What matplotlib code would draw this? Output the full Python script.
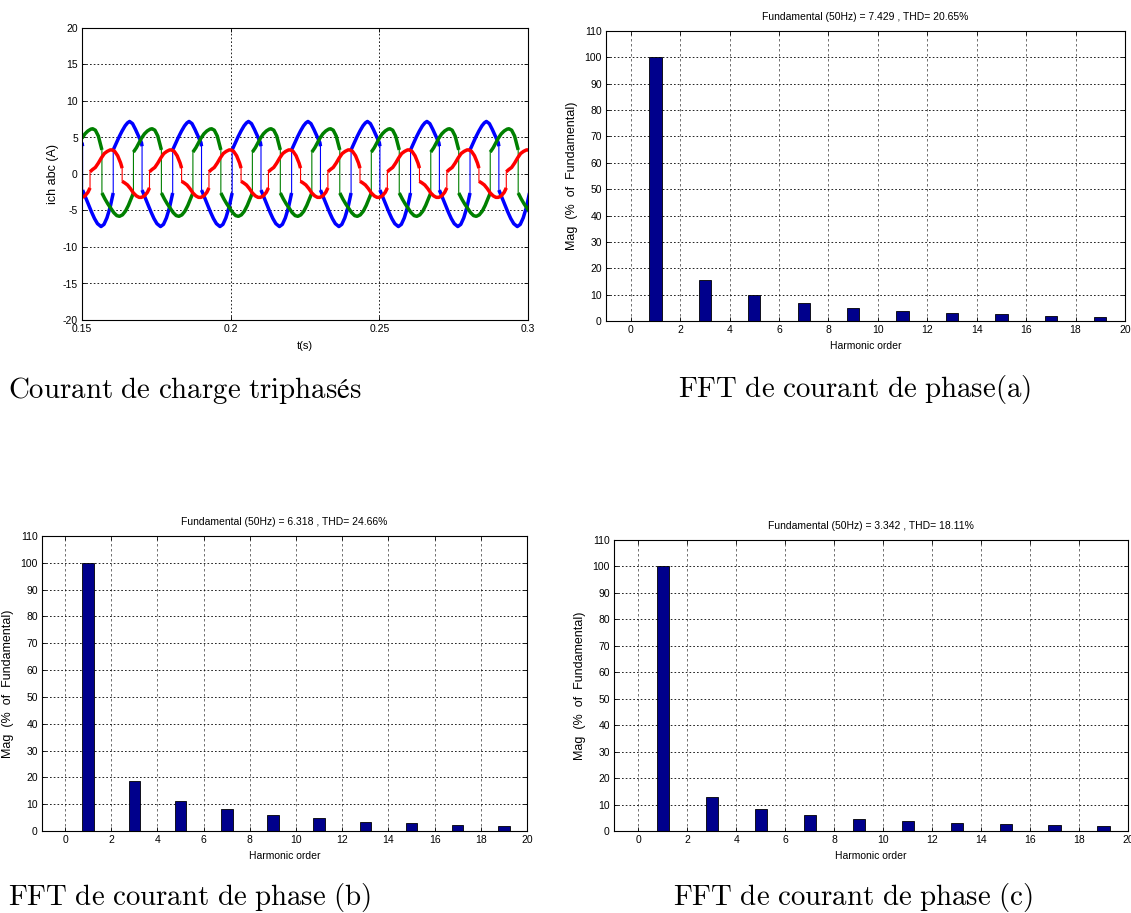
import numpy as np
import matplotlib
matplotlib.use("Agg")
import matplotlib.pyplot as plt

plt.rcParams['mathtext.fontset'] = 'cm'
plt.rcParams['axes.unicode_minus'] = False
TICK_FONT = ['Liberation Sans Narrow', 'Liberation Sans', 'DejaVu Sans']
LABEL_FONT = ['Liberation Sans', 'DejaVu Sans']

# ------------------------
# waveform data: one period of each phase current
# tau in ms from t = 0.19 s, period 20 ms (50 Hz)
# duplicate tau = vertical jump
# ------------------------
PERIOD = 0.02
T_REF = 0.19

blue_tau = [0.0, 0.2, 0.2, 1.2, 2.2, 3.2, 4.2, 5.2, 6.4, 7.4, 8.4, 9.5, 10.5, 10.5,
            11.5, 12.5, 13.5, 14.5, 15.3, 16.0, 17.0, 18.0, 19.0]
blue_val = [4.3, 3.8, -2.2, -3.2, -4.2, -5.2, -6.1, -6.8, -7.2, -6.9, -6.0, -4.5, -2.6, 3.3,
            4.2, 5.1, 5.9, 6.6, 7.0, 7.2, 6.9, 6.1, 5.2]

green_tau = [0.0, 1.0, 2.0, 3.0, 3.6, 4.5, 5.5, 6.7, 6.7, 7.7, 8.7, 9.7, 10.7, 11.7,
             12.6, 13.6, 14.6, 15.6, 16.5, 17.3, 17.3, 18.3, 19.2]
green_val = [4.9, 5.5, 5.9, 6.15, 6.2, 6.0, 5.2, 3.3, -2.6, -3.4, -4.1, -4.7, -5.3, -5.7,
             -5.8, -5.6, -5.1, -4.3, -3.4, -2.6, 3.0, 3.6, 4.3]

red_tau = [0.0, 1.0, 2.0, 2.7, 2.7, 3.5, 4.5, 5.5, 6.5, 7.5, 8.5, 9.5, 10.1, 11.0,
           12.0, 13.0, 13.5, 13.5, 14.3, 15.3, 16.3, 17.3, 18.3, 19.2]
red_val = [-3.2, -3.0, -2.5, -1.9, 0.3, 0.6, 0.9, 1.5, 2.2, 2.8, 3.1, 3.3, 3.3, 3.1,
           2.5, 1.5, 0.8, -1.0, -1.2, -1.5, -2.0, -2.6, -3.0, -3.2]

# ------------------------
# FFT data (harmonic orders / % of fundamental)
# ------------------------
orders = [1, 3, 5, 7, 9, 11, 13, 15, 17, 19]
mag_a = [100, 15.5, 9.8, 6.9, 5.0, 3.9, 3.1, 2.8, 2.0, 1.6]
mag_b = [100, 18.5, 11.2, 8.1, 5.8, 4.7, 3.5, 3.1, 2.4, 2.0]
mag_c = [100, 12.9, 8.5, 6.2, 4.7, 3.9, 3.2, 2.8, 2.4, 2.0]

title_a = "Fundamental (50Hz) = 7.429 , THD= 20.65%"
title_b = "Fundamental (50Hz) = 6.318 , THD= 24.66%"
title_c = "Fundamental (50Hz) = 3.342 , THD= 18.11%"

cap_load = r"$\mathrm{Courant\ de\ charge\ triphasés}$"
cap_a = r"$\mathrm{FFT\ de\ courant\ de\ phase(a)}$"
cap_b = r"$\mathrm{FFT\ de\ courant\ de\ phase\ (b)}$"
cap_c = r"$\mathrm{FFT\ de\ courant\ de\ phase\ (c)}$"


def tile(tau, val):
    tau = np.asarray(tau) / 1000.0
    ts, vs = [], []
    for k in range(-2, 7):
        ts.append(T_REF + k * PERIOD + tau)
        vs.append(np.asarray(val))
    return np.concatenate(ts), np.concatenate(vs)


def break_jumps(t, y):
    t2, y2 = [], []
    for i in range(len(t)):
        if i > 0 and t[i] == t[i - 1] and y[i] != y[i - 1]:
            t2.append(np.nan)
            y2.append(np.nan)
        t2.append(t[i])
        y2.append(y[i])
    return t2, y2


def matlab_axes(ax):
    ax.tick_params(direction='in', length=3, width=0.6, top=True, right=True,
                   labelsize=7.5, pad=3)
    for lab in ax.get_xticklabels() + ax.get_yticklabels():
        lab.set_family(TICK_FONT)
    for s in ax.spines.values():
        s.set_linewidth(0.8)
    ax.grid(True, color='black', linestyle=(0, (2, 2.5)), linewidth=0.6)
    ax.set_axisbelow(True)


fig = plt.figure(figsize=(11.31, 9.13), dpi=100)
W, H = 1131.0, 913.0


def add_axes(l, t, r, b):
    return fig.add_axes([l / W, 1 - b / H, (r - l) / W, (b - t) / H])


# ------------------------
# load currents
# ------------------------
ax = add_axes(82, 28, 528, 320)
for tau, val, col in [(blue_tau, blue_val, (0, 0, 1)),
                      (green_tau, green_val, (0, 0.5, 0)),
                      (red_tau, red_val, (1, 0, 0))]:
    t, y = tile(tau, val)
    ax.plot(t, y, color=col, linewidth=0.8)
    tb, yb = break_jumps(t, y)
    ax.plot(tb, yb, color=col, linewidth=2.5, solid_capstyle='butt')
ax.set_xlim(0.15, 0.3)
ax.set_ylim(-20, 20)
ax.set_xticks([0.15, 0.2, 0.25, 0.3])
ax.set_xticklabels(['0.15', '0.2', '0.25', '0.3'])
ax.set_yticks(range(-20, 21, 5))
ax.set_xlabel('t(s)', fontsize=8, family=TICK_FONT, labelpad=5)
ax.set_ylabel('ich abc (A)', fontsize=9, family=LABEL_FONT, labelpad=3)
matlab_axes(ax)


# ------------------------
# FFT spectra
# ------------------------
def fft_axes(box, mags, title):
    ax = add_axes(*box)
    ax.bar(orders, mags, width=0.5, color=(0, 0, 0.55), edgecolor='black', linewidth=0.6)
    ax.set_xlim(-1, 20)
    ax.set_ylim(0, 110)
    ax.set_xticks(range(0, 21, 2))
    ax.set_yticks(range(0, 111, 10))
    ax.set_title(title, fontsize=7.5, family=TICK_FONT, pad=8)
    ax.set_xlabel('Harmonic order', fontsize=7.5, family=TICK_FONT, labelpad=4)
    ax.set_ylabel('Mag  (%  of  Fundamental)', fontsize=9,
                  family=LABEL_FONT, labelpad=5)
    matlab_axes(ax)
    ax.xaxis.grid(True, color='0.35', linestyle=(0, (3, 3)), linewidth=0.6)
    return ax


fft_axes((606, 31, 1125, 321), mag_a, title_a)
fft_axes((42, 536, 527, 831), mag_b, title_b)
fft_axes((614, 540, 1128, 831), mag_c, title_c)

# captions
fig.text(8 / W, 1 - 390 / H, cap_load, fontsize=20.8, va='center', ha='left')
fig.text(678 / W, 1 - 390 / H, cap_a, fontsize=20.8, va='center', ha='left')
fig.text(8 / W, 1 - 897 / H, cap_b, fontsize=20.8, va='center', ha='left')
fig.text(673 / W, 1 - 897 / H, cap_c, fontsize=20.8, va='center', ha='left')

fig.savefig('out.png', dpi=100)
